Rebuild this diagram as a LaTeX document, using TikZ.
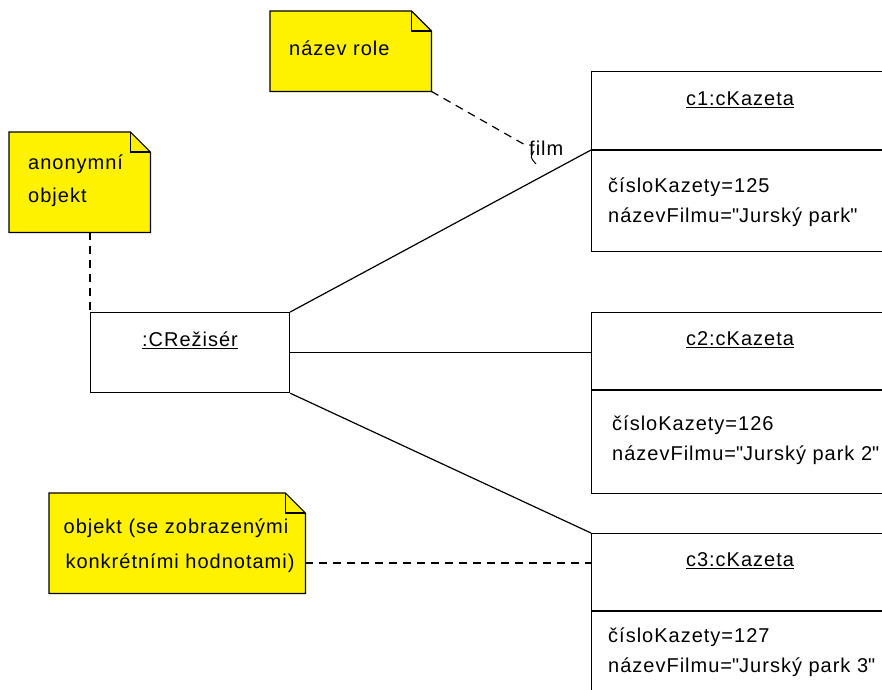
\documentclass[tikz,border=0pt]{standalone}
\usepackage{fontspec}
\setmainfont[LetterSpace=5]{Liberation Sans}
\begin{document}
\begin{tikzpicture}[x=1pt,y=-1pt,
  box/.style={draw=none,inner sep=0pt,anchor=north west},
  notefill/.style={fill=yellow,draw=black,line width=1.2pt},
  obj/.style={draw=black,fill=white,line width=1.2pt,inner sep=0pt,anchor=north west},
  txt/.style={font=\fontsize{20}{23}\selectfont,inner sep=0pt},
  assoc/.style={line width=1.2pt},
  anchorline/.style={line width=1.2pt,dash pattern=on 8pt off 6pt}]
\useasboundingbox (0,0) rectangle (882,689);
\clip (0,0) rectangle (882,689);
% notes
\node[box,minimum width=161pt,minimum height=80pt] (nrole) at (270,11) {};
\node[box,minimum width=141pt,minimum height=100pt] (nanon) at (9,132) {};
\node[box,minimum width=256pt,minimum height=100pt] (nobj) at (49,493) {};
\foreach \n in {nrole,nanon,nobj}{
  \path[notefill] (\n.north west) -- ([xshift=-20pt]\n.north east) -- ([yshift=-20pt]\n.north east) -- (\n.south east) -- (\n.south west) -- cycle;
  \draw[line width=1.2pt] ([xshift=-20pt]\n.north east) |- ([yshift=-20pt]\n.north east);
}
\node[txt,anchor=west] (trole) at (289,48) {název role};
\node[txt,anchor=west] (tanon1) at (28,164) {anonymní};
\node[txt,anchor=west] (tanon2) at (28,197) {objekt};
\node[txt,anchor=center] (tobj1) at (176,528) {objekt (se zobrazenými};
\node[txt,anchor=center] (tobj2) at (180,563) {konkrétními hodnotami)};
% objects
\node[obj,minimum width=199pt,minimum height=80pt] (dir) at (90,312) {};
\node[obj,minimum width=298pt,minimum height=180pt] (c1) at (591,71) {};
\node[obj,minimum width=298pt,minimum height=181pt] (c2) at (591,312) {};
\node[obj,minimum width=298pt,minimum height=180pt] (c3) at (591,533) {};
\draw[line width=2.6pt] (591,150) -- (891,150);
\draw[line width=2.6pt] (591,390) -- (891,390);
\draw[line width=1.2pt] (591,611) -- (891,611);
\node[txt] (tdir) at (190,340) {\underline{:CRežisér}};
\node[txt] (tc1) at (740,100) {\underline{c1:cKazeta}};
\node[txt] (tc2) at (740,340) {\underline{c2:cKazeta}};
\node[txt] (tc3) at (740,561) {\underline{c3:cKazeta}};
\node[txt,anchor=west] (a11) at (608,187) {čísloKazety=125};
\node[txt,anchor=west] (a12) at (608,217) {názevFilmu=\textquotedbl Jurský park\textquotedbl};
\node[txt,anchor=west] (a21) at (612,425) {čísloKazety=126};
\node[txt,anchor=west] (a22) at (612,455) {názevFilmu=\textquotedbl Jurský park 2\textquotedbl};
\node[txt,anchor=west] (a31) at (608,637) {čísloKazety=127};
\node[txt,anchor=west] (a32) at (608,667) {názevFilmu=\textquotedbl Jurský park 3\textquotedbl};
% connectors
\coordinate (c1d) at (591,150);
\draw[assoc] (dir.north east) -- (c1d);
\draw[assoc] (dir.east) -- (dir.east -| c2.west);
\draw[assoc] (dir.south east) -- (c3.north west);
% role label
\node[txt,anchor=west] (film) at (529,148) {film};
\coordinate (filmend) at (527,146);
\draw[anchorline] (nrole.south east) -- (filmend);
\draw[line width=1pt] (534,151) .. controls (530,157) .. (536,164);
\draw[anchorline] (dir.north west |- nanon.south) -- (dir.north west);
\coordinate (nobjc) at (305,563);
\draw[anchorline] (nobjc) -- (nobjc -| c3.west);
\end{tikzpicture}
\end{document}
